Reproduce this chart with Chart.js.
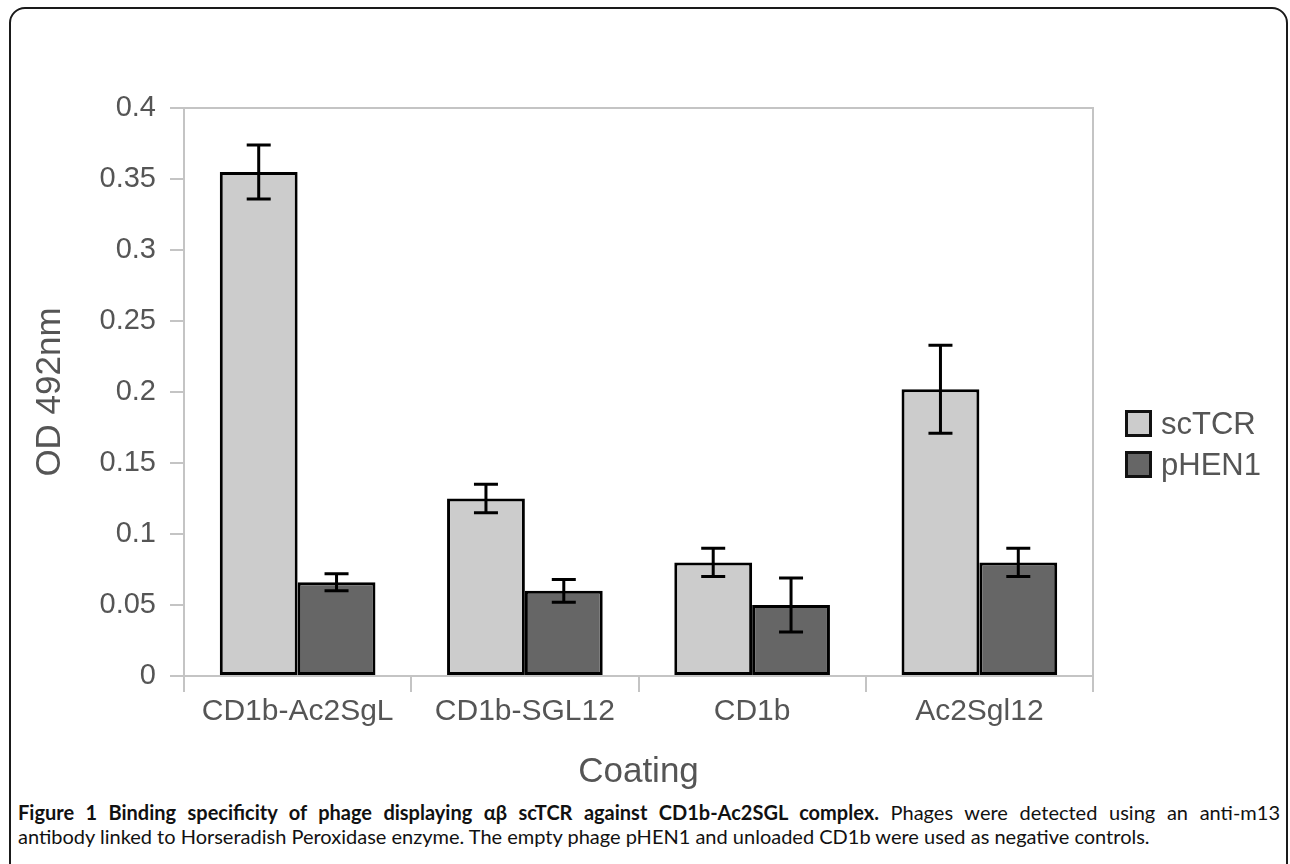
<!DOCTYPE html>
<html>
<head>
<meta charset="utf-8">
<script src="https://cdn.jsdelivr.net/npm/chart.js@4.4.0/dist/chart.umd.min.js"></script>
<style>
  html, body { margin: 0; padding: 0; background: #fff; }
  body { width: 1290px; height: 864px; position: relative; overflow: hidden; font-family: "Liberation Sans", Arial, sans-serif; }
  .frame { position: absolute; left: 9px; top: 7px; width: 1279px; height: 920px; border: 2px solid #1a1a1a; border-radius: 16px; box-sizing: border-box; }
  #plot { position: absolute; left: 0; top: 0; }
  .legend { position: absolute; left: 1125px; top: 403px; color: #555; font-size: 31px; }
  .legend div { display: flex; align-items: center; height: 41px; }
  .legend .box { width: 21px; height: 21px; border: 3px solid #111; margin-right: 9px; }
  .caption { position: absolute; left: 18px; top: 800px; width: 1262px; font-family: Lato, sans-serif; font-size: 20px; line-height: 24px; color: #111; }
  .caption .l1 { text-align: justify; text-align-last: justify; white-space: nowrap; }
</style>
</head>
<body>
<div class="frame"></div>
<canvas id="plot" width="1290" height="796"></canvas>
<div class="legend" id="legend"></div>
<div class="caption">
  <div class="l1"><b>Figure 1 Binding specificity of phage displaying αβ scTCR against CD1b-Ac2SGL complex.</b> Phages were detected using an anti-m13</div>
  <div>antibody linked to Horseradish Peroxidase enzyme. The empty phage pHEN1 and unloaded CD1b were used as negative controls.</div>
</div>
<script>
const categories = ['CD1b-Ac2SgL', 'CD1b-SGL12', 'CD1b', 'Ac2Sgl12'];
const scTCR = [0.355, 0.125, 0.080, 0.202];
const scTCRErr = [0.019, 0.010, 0.010, 0.031];
const pHEN1 = [0.066, 0.060, 0.050, 0.080];
const pHEN1Err = [0.006, 0.008, 0.019, 0.010];
const yTicks = [0, 0.05, 0.1, 0.15, 0.2, 0.25, 0.3, 0.35, 0.4];

const axisGray = '#c4c4c4';
const textGray = '#555';

// 오차막대
const errorBars = {
  id: 'errorBars',
  afterDatasetsDraw(chart) {
    const { ctx, scales: { y } } = chart;
    ctx.save();
    ctx.strokeStyle = '#000';
    ctx.lineWidth = 3;
    chart.data.datasets.forEach((ds, i) => {
      chart.getDatasetMeta(i).data.forEach((bar, j) => {
        const top = y.getPixelForValue(ds.data[j] + ds.errors[j]);
        const bot = y.getPixelForValue(ds.data[j] - ds.errors[j]);
        ctx.beginPath();
        ctx.moveTo(bar.x, top); ctx.lineTo(bar.x, bot);
        ctx.moveTo(bar.x - 12, top); ctx.lineTo(bar.x + 12, top);
        ctx.moveTo(bar.x - 12, bot); ctx.lineTo(bar.x + 12, bot);
        ctx.stroke();
      });
    });
    ctx.restore();
  }
};

// 플롯 테두리 (위, 오른쪽)
const plotFrame = {
  id: 'plotFrame',
  beforeDatasetsDraw(chart) {
    const { ctx, chartArea: a } = chart;
    ctx.save();
    ctx.strokeStyle = axisGray;
    ctx.lineWidth = 2;
    ctx.beginPath();
    ctx.moveTo(a.left, a.top);
    ctx.lineTo(a.right, a.top);
    ctx.lineTo(a.right, a.bottom);
    ctx.stroke();
    ctx.restore();
  }
};

const chart = new Chart(document.getElementById('plot'), {
  type: 'bar',
  data: {
    labels: categories,
    datasets: [{
      label: 'scTCR',
      data: scTCR,
      errors: scTCRErr,
      backgroundColor: '#cccccc',
      borderColor: '#000',
      borderWidth: 3,
      borderSkipped: false,
      categoryPercentage: 0.685,
      barPercentage: 1
    }, {
      label: 'pHEN1',
      data: pHEN1,
      errors: pHEN1Err,
      backgroundColor: '#666666',
      borderColor: '#000',
      borderWidth: 3,
      borderSkipped: false,
      categoryPercentage: 0.685,
      barPercentage: 1
    }]
  },
  options: {
    responsive: false,
    animation: false,
    layout: { padding: { top: 108, right: 197, left: 0, bottom: 0 } },
    plugins: {
      legend: { display: false },
      tooltip: { enabled: false }
    },
    scales: {
      x: {
        afterFit: s => { s.height = 120; },
        border: { color: axisGray, width: 2 },
        grid: { offset: true, drawOnChartArea: false, tickLength: 16, color: axisGray, lineWidth: 2 },
        ticks: { font: { family: 'Liberation Sans', size: 30 }, color: textGray, padding: 2 },
        title: { display: true, text: 'Coating', font: { family: 'Liberation Sans', size: 35 }, color: textGray, padding: { top: 0, bottom: 3 } }
      },
      y: {
        min: 0,
        max: 0.4,
        afterFit: s => { s.width = 184; },
        afterBuildTicks: s => { s.ticks = yTicks.map(v => ({ value: v })); },
        border: { color: axisGray, width: 2 },
        grid: { drawOnChartArea: false, tickLength: 14, color: axisGray, lineWidth: 2 },
        ticks: { font: { family: 'Liberation Sans', size: 29 }, color: textGray, padding: 14, callback: v => String(+v.toFixed(2)) },
        title: { display: true, text: 'OD 492nm', font: { family: 'Liberation Sans', size: 35 }, color: textGray, padding: { top: 29, bottom: 0 } }
      }
    }
  },
  plugins: [plotFrame, errorBars]
});

// 범례
const legendEl = document.getElementById('legend');
chart.data.datasets.forEach(ds => {
  const row = document.createElement('div');
  row.innerHTML = '<span class="box" style="background:' + ds.backgroundColor + '"></span>' + ds.label;
  legendEl.appendChild(row);
});
</script>
</body>
</html>
